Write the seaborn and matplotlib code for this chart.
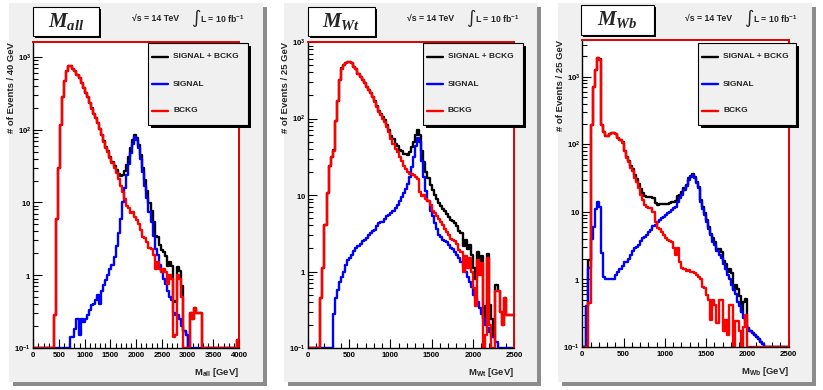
import numpy as np
import pandas as pd
import matplotlib
matplotlib.use("Agg")
import matplotlib.pyplot as plt
from matplotlib.patches import Rectangle
from matplotlib.lines import Line2D
from matplotlib.ticker import FixedLocator, MultipleLocator, NullFormatter, FixedFormatter
import seaborn as sns

# ---- histogram contents (events per bin), 100 bins per panel ----
# M_all : 0-4000 GeV, 40 GeV bins
bkg_all = [0, 0, 0, 0, 0, 0, 0, 0, 0, 0,
           0.28, 6, 30, 115, 280, 470, 630, 740, 740, 690,
           630, 560, 510, 435, 370, 316, 280, 230, 195, 166,
           143, 123, 103, 85, 68, 56, 50, 41, 35, 30,
           25, 21, 17, 14, 11, 9, 8.3, 7.1, 7.5, 6.3,
           5.7, 5.1, 4.2, 3.4, 3.2, 2.9, 2.4, 2.3, 1.9, 1.2,
           1.5, 1.2, 1.1, 1.2, 1.1, 0.75, 1.0, 0.9, 0.14, 0.15,
           1.0, 0.9, 0.5, 0, 0, 0, 0.3, 0.25, 0.35, 0.3,
           0.3, 0.3, 0, 0, 0, 0, 0, 0, 0, 0,
           0, 0, 0, 0, 0, 0, 0, 0, 0, 0.13]
sig_all = [0, 0, 0, 0, 0, 0, 0, 0, 0, 0,
           0, 0, 0, 0, 0, 0, 0, 0, 0.14, 0.14,
           0.18, 0.25, 0.15, 0.25, 0.23, 0.25, 0.28, 0.33, 0.39, 0.4,
           0.45, 0.53, 0.4, 0.6, 0.73, 0.85, 1.0, 1.23, 1.4, 1.8,
           2.5, 3.8, 6, 10, 16, 24, 34, 48, 64, 78,
           72, 56, 40, 26, 17, 11.5, 7.4, 5.4, 3.5, 2.3,
           1.9, 1.4, 1.1, 0.9, 0.75, 0.6, 0.5, 0.45, 0.3, 0.28,
           0.28, 0.25, 0.2, 0.17, 0.15, 0, 0, 0, 0, 0,
           0, 0, 0, 0, 0, 0, 0, 0, 0, 0,
           0, 0, 0, 0, 0, 0, 0, 0, 0, 0]

# M_Wt : 0-2500 GeV, 25 GeV bins
bkg_wt = [0, 0, 0, 0, 0, 0, 0.45, 1.1, 4.1, 10.7,
          24, 31, 38, 93, 170, 315, 450, 500, 530, 540,
          540, 525, 475, 440, 385, 350, 315, 290, 255, 235,
          215, 190, 165, 140, 120, 110, 100, 90, 78, 66,
          54, 47, 40, 36, 31, 28, 24, 22, 20, 19,
          19, 18, 17, 16, 11, 9.6, 10, 8.8, 8.4, 7.5,
          6.2, 5.8, 5.3, 4.8, 4.4, 4.0, 3.6, 3.3, 3.0, 2.7,
          2.6, 2.5, 2.3, 1.9, 1.8, 1.0, 1.6, 1.1, 1.5, 1.0,
          0.6, 0.35, 1.4, 0.9, 1.3, 0, 0.15, 1.5, 0.2, 0.1,
          0, 0.55, 0.55, 0.3, 0.2, 0.45, 0.27, 0.27, 0.27, 0.27]
sig_wt = [0, 0, 0, 0, 0, 0, 0, 0, 0, 0,
          0, 0, 0.28, 0.45, 0.57, 0.74, 0.86, 1.0, 1.23, 1.42,
          1.5, 1.65, 1.83, 2.0, 2.15, 2.3, 2.5, 2.6, 2.75, 3.0,
          3.2, 3.35, 3.5, 3.9, 4.3, 4.5, 4.5, 4.8, 5.3, 5.5,
          5.8, 6.2, 6.8, 7.5, 8.3, 9.5, 10.7, 12, 13.8, 17,
          23, 31, 44, 55, 50, 28, 17, 11.3, 8.3, 6.2,
          5.3, 4.3, 3.6, 3.0, 2.8, 2.6, 2.5, 2.4, 2.2, 2.0,
          1.95, 1.8, 1.66, 1.5, 1.35, 1.15, 1.0, 0.85, 0.72, 0.62,
          0.5, 0.45, 0.4, 0.33, 0.28, 0.24, 0.2, 0.18, 0.16, 0.14,
          0.14, 0.12, 0, 0, 0, 0, 0, 0, 0, 0]

# M_Wb : 0-2500 GeV, 25 GeV bins
bkg_wb = [0, 0, 0, 0.45, 190, 700, 1250, 1900, 1800, 190,
          150, 131, 131, 140, 148, 148, 140, 124, 115, 105,
          79, 63, 55, 45, 40, 32, 28, 22.5, 18, 15,
          12.6, 12, 11.5, 11.3, 10, 7.2, 5.7, 5.5, 5.1, 4.6,
          4.1, 3.8, 3.7, 3.6, 2.9, 2.3, 2.9, 1.8, 1.5, 1.45,
          1.35, 1.4, 1.3, 1.3, 1.25, 1.15, 1.1, 1.03, 0.78, 0.75,
          0.59, 0.5, 0.25, 0.5, 0.42, 0.23, 0.5, 0.5, 0.17, 0.25,
          0.15, 0.42, 0.42, 0, 0.24, 0.24, 0.17, 0, 0.2, 0.3,
          0, 0, 0, 0, 0, 0, 0, 0, 0, 0,
          0, 0, 0, 0, 0, 0, 0, 0, 0, 0]
sig_wb = [0, 0, 0.4, 1.5, 4, 6, 11, 14, 12, 2.5,
          1.1, 1.0, 1.0, 1.0, 1.0, 1.0, 1.15, 1.3, 1.45, 1.6,
          1.8, 1.8, 2.0, 2.3, 2.6, 2.9, 3.0, 3.2, 3.7, 4.1,
          4.3, 4.6, 5.1, 5.4, 6.1, 6.5, 7.0, 7.5, 8.0, 8.5,
          9.0, 9.5, 10, 10.5, 11.3, 12, 14, 16, 18, 21,
          24, 30, 33, 35, 32, 27, 22.5, 14, 11, 9,
          7, 5.5, 4.5, 3.6, 3.2, 2.6, 2.3, 2.05, 1.7, 1.45,
          1.15, 1.0, 0.82, 0.7, 0.6, 0.47, 0.4, 0.33, 0.27, 0.22,
          0.19, 0.17, 0.16, 0.15, 0.14, 0.13, 0.12, 0.11, 0, 0,
          0, 0, 0, 0, 0, 0, 0, 0, 0, 0]

series_labels = ["SIGNAL + BCKG", "SIGNAL", "BCKG"]
series_colors = ["black", "#0000ff", "#ff0000"]
ytick_values = [0.1, 1, 10, 100, 1000]
ytick_labels = [r"$\mathrm{10^{-1}}$", r"$\mathrm{1}$", r"$\mathrm{10}$",
                r"$\mathrm{10^{2}}$", r"$\mathrm{10^{3}}$"]

W, H = 823, 390
YMIN = 0.1


def fx(x):
    return x / W


def fy(y):
    return 1 - y / H


def box(fig, x0, y0, x1, y1, face, edge=None, lw=0, z=0):
    r = Rectangle((fx(x0), fy(y1)), (x1 - x0) / W, (y1 - y0) / H,
                  transform=fig.transFigure, facecolor=face,
                  edgecolor=edge if edge else face, linewidth=lw, zorder=z)
    fig.add_artist(r)


sns.set_theme(style="white")
plt.rcParams['font.family'] = ['Liberation Sans', 'DejaVu Sans']
plt.rcParams['mathtext.fontset'] = 'custom'
plt.rcParams['mathtext.rm'] = 'Liberation Sans:bold'
plt.rcParams['mathtext.bf'] = 'Liberation Sans:bold'
plt.rcParams['mathtext.it'] = 'Liberation Serif:bold:italic'

fig = plt.figure(figsize=(W / 100, H / 100), dpi=100)
fig.patch.set_facecolor("white")

panels = [
    dict(bkg=bkg_all, sig=sig_all, xmax=4000, ymax=1600, title=r"$M_{all}$",
         xlabel=r"$\mathrm{M_{all}}$ [GeV]", ylabel="# of Events / 40 GeV",
         canvas=(9, 3, 263, 382), axes=(33.3, 42, 239, 348),
         tbox=(33, 7, 99, 36), legend=(148, 43, 248, 125), ex=132),
    dict(bkg=bkg_wt, sig=sig_wt, xmax=2500, ymax=1000, title=r"$M_{Wt}$",
         xlabel=r"$\mathrm{M_{Wt}}$ [GeV]", ylabel="# of Events / 25 GeV",
         canvas=(284, 3, 537, 382), axes=(308, 42, 514, 348),
         tbox=(308, 7, 375, 36), legend=(423, 43, 523, 125), ex=407),
    dict(bkg=bkg_wb, sig=sig_wb, xmax=2500, ymax=3500, title=r"$M_{Wb}$",
         xlabel=r"$\mathrm{M_{Wb}}$ [GeV]", ylabel="# of Events / 25 GeV",
         canvas=(558, 3, 812, 382), axes=(582.3, 40, 788.7, 347),
         tbox=(581, 5, 654, 35), legend=(698, 43, 796, 125), ex=685),
]

for p in panels:
    # canvas with shadow
    cx0, cy0, cx1, cy1 = p["canvas"]
    box(fig, cx0 + 4, cy0 + 4, cx1 + 4, cy1 + 4, "#8c8c8c", z=-3)
    box(fig, cx0, cy0, cx1, cy1, "#f0f0f0", z=-2)

    ax0, ay0, ax1, ay1 = p["axes"]
    ax = fig.add_axes([fx(ax0), fy(ay1), (ax1 - ax0) / W, (ay1 - ay0) / H])
    ax.set_facecolor("white")

    bkg = np.asarray(p["bkg"], float)
    sig = np.asarray(p["sig"], float)
    nb = len(bkg)
    centers = (np.arange(nb) + 0.5) * p["xmax"] / nb
    df = pd.DataFrame({"m": centers, "tot": sig + bkg, "sig": sig, "bkg": bkg})
    for col_name, col in zip(["tot", "sig", "bkg"], series_colors):
        df["w"] = df[col_name].clip(lower=YMIN)
        sns.histplot(data=df, x="m", weights="w", bins=nb,
                     binrange=(0, p["xmax"]), element="step", fill=False,
                     color=col, linewidth=1.7, ax=ax)

    ax.set_yscale("log")
    ax.set_xlim(0, p["xmax"])
    ax.set_ylim(YMIN, p["ymax"])
    ax.yaxis.set_major_locator(FixedLocator(ytick_values))
    ax.yaxis.set_major_formatter(FixedFormatter(ytick_labels))
    minors = [m * 10.0 ** e for e in range(-1, 4) for m in range(2, 10)]
    ax.yaxis.set_minor_locator(FixedLocator(minors))
    ax.yaxis.set_minor_formatter(NullFormatter())
    ax.xaxis.set_major_locator(MultipleLocator(500))
    ax.xaxis.set_minor_locator(MultipleLocator(100))
    ax.tick_params(which="major", direction="in", length=6.5, width=0.8,
                   labelsize=5.6, pad=3, colors="black")
    ax.tick_params(axis="y", which="major", pad=1.5)
    ax.tick_params(which="minor", direction="in", length=3.5, width=0.8,
                   colors="black")
    ax.tick_params(axis="x", which="both", top=False, bottom=True)
    ax.tick_params(axis="y", which="both", left=True, right=False)
    for lab in ax.get_xticklabels():
        lab.set_fontweight("bold")

    for side in ["left", "bottom"]:
        ax.spines[side].set_color("black")
        ax.spines[side].set_linewidth(1.0)
    for side in ["top", "right"]:
        ax.spines[side].set_color("#e00000")
        ax.spines[side].set_linewidth(1.4)

    ax.set_xlabel(p["xlabel"], fontsize=6.8, fontweight="bold", loc="right")
    ax.xaxis.set_label_coords(1.0, -0.06)
    ax.set_ylabel(p["ylabel"], fontsize=6.8, fontweight="bold", loc="top")
    ax.yaxis.set_label_coords(-17.5 / (ax1 - ax0), 1.0)

    # title box
    tx0, ty0, tx1, ty1 = p["tbox"]
    box(fig, tx0 + 2, ty0 + 2, tx1 + 2, ty1 + 2, "black", z=5)
    box(fig, tx0, ty0, tx1, ty1, "white", edge="black", lw=0.8, z=6)
    fig.text(fx((tx0 + tx1) / 2), fy((ty0 + ty1) / 2), p["title"], fontsize=15,
             ha="center", va="center", zorder=7)

    # energy / luminosity
    ex = p["ex"]
    fig.text(fx(ex), fy(18), "√s = 14 TeV", fontsize=6.3, fontweight="bold",
             va="center", ha="left")
    fig.text(fx(ex + 59), fy(18), "∫", fontsize=13, va="center", ha="left",
             family=["DejaVu Sans"])
    fig.text(fx(ex + 68), fy(18), r"L = 10 fb$^{\mathrm{-1}}$", fontsize=6.3,
             fontweight="bold", va="center", ha="left")

    # legend box
    lx0, ly0, lx1, ly1 = p["legend"]
    box(fig, lx0 + 3, ly0 + 3, lx1 + 3, ly1 + 3, "black", z=5)
    box(fig, lx0, ly0, lx1, ly1, "#f0f0f0", edge="black", lw=0.8, z=6)
    for k, (lab, col) in enumerate(zip(series_labels, series_colors)):
        yy = ly0 + 14 + 27 * k
        fig.add_artist(Line2D([fx(lx0 + 4), fx(lx0 + 20)], [fy(yy), fy(yy)],
                              transform=fig.transFigure, color=col,
                              linewidth=1.7, zorder=7))
        fig.text(fx(lx0 + 25), fy(yy), lab, fontsize=6, fontweight="bold",
                 va="center", ha="left", zorder=7)

fig.savefig("out.png", dpi=100, facecolor="white")
